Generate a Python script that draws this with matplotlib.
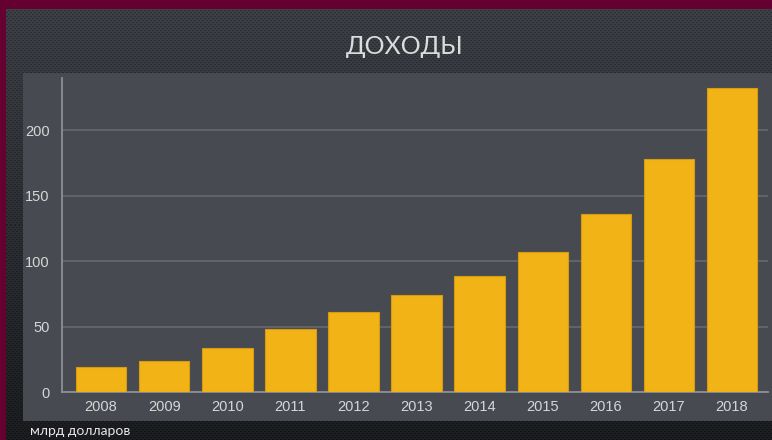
import numpy as np
import matplotlib
matplotlib.use("Agg")
import matplotlib.pyplot as plt
from matplotlib.patches import Rectangle

# Revenue by year, billions of dollars
years = ["2008", "2009", "2010", "2011", "2012", "2013",
         "2014", "2015", "2016", "2017", "2018"]
revenue = [19, 24, 34, 48, 61, 74, 88.5, 107, 136, 178, 232]
y_ticks = [0, 50, 100, 150, 200]
title = "ДОХОДЫ"
unit_label = "млрд долларов"

W, H = 772, 440
fig = plt.figure(figsize=(W / 100, H / 100), dpi=100)
fig.patch.set_facecolor("#650030")

# Dark textured backdrop (vertical gradient with a fine dot pattern)
x0, y0 = 6, 9
bw, bh = W - x0, H - y0
t = np.linspace(0, 1, bh)[:, None]
top_c = np.array([0x3d, 0x41, 0x47]) / 255
bot_c = np.array([0x1b, 0x1d, 0x20]) / 255
grad = top_c[None, None, :] * (1 - t[..., None]) + bot_c[None, None, :] * t[..., None]
grad = np.broadcast_to(grad, (bh, bw, 3)).copy()
yy, xx = np.mgrid[0:bh, 0:bw]
dots = (((xx + 2 * ((yy // 2) % 2)) % 4) < 2) & ((yy % 2) == 0)
grad[dots] *= 0.72
bg = fig.add_axes([x0 / W, 0, bw / W, bh / H])
bg.imshow(grad, aspect="auto", interpolation="nearest", extent=[0, 1, 0, 1])
bg.set_axis_off()

# Lighter chart panel
panel_l, panel_t, panel_b = 23, 73, 421
fig.patches.append(Rectangle((panel_l / W, (H - panel_b) / H),
                             (W - panel_l) / W, (panel_b - panel_t) / H,
                             transform=fig.transFigure, facecolor="#474b51",
                             edgecolor="none", zorder=1))

fig.text(405 / W, 1 - 47 / H, title, ha="center", va="center",
         fontsize=18, color="#dcdcdc", family="Lato", zorder=5)
fig.text(30 / W, 3 / H, unit_label, ha="left", va="bottom",
         fontsize=10, color="#e8e8e8", family="Lato", zorder=5)

ax_l, ax_r, ax_b, ax_t = 62, 768, 392, 78
ax = fig.add_axes([ax_l / W, (H - ax_b) / H, (ax_r - ax_l) / W, (ax_b - ax_t) / H])
ax.set_facecolor("none")
ax.set_zorder(2)

x = np.arange(len(years))
ax.bar(x, revenue, width=0.8, color="#f2b316", edgecolor="#d89a12",
       linewidth=0.8, zorder=3)

ax.set_xlim(-0.62, len(years) - 1 + 0.57)
ax.set_ylim(0, 240)
ax.set_yticks(y_ticks)
ax.set_xticks(x)
ax.set_xticklabels(years)
ax.grid(axis="y", color="#63676d", linewidth=1.3, zorder=0)
ax.set_axisbelow(True)

for side in ("top", "right"):
    ax.spines[side].set_visible(False)
for side in ("left", "bottom"):
    ax.spines[side].set_color("#8c8f93")
    ax.spines[side].set_linewidth(1.3)

ax.tick_params(axis="both", length=0, colors="#d6d6d6", labelsize=10.5)
ax.tick_params(axis="y", pad=9)
ax.tick_params(axis="x", pad=6)
for lbl in ax.get_xticklabels() + ax.get_yticklabels():
    lbl.set_family("Liberation Sans")

fig.savefig("out.png", dpi=100, facecolor=fig.get_facecolor())
